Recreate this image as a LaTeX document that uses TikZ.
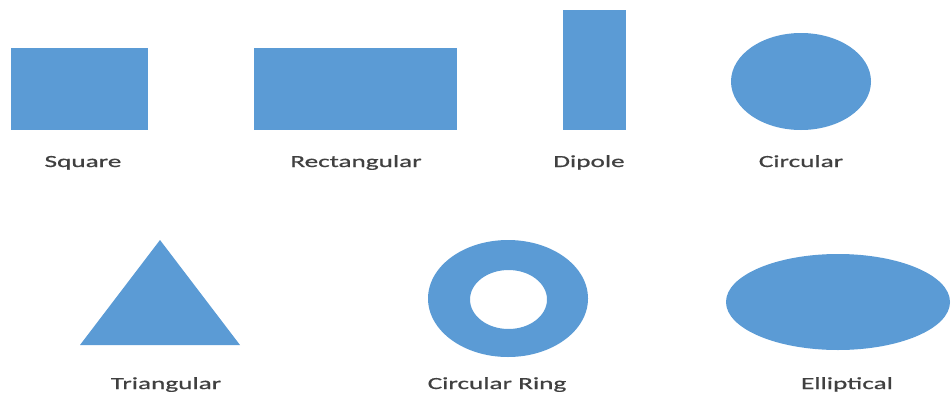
\documentclass[tikz,border=0pt]{standalone}
\usepackage{fontspec}
\usepackage{tikz}
\usetikzlibrary{positioning}
\newfontfamily\lblfont[FakeStretch=1.6,FakeBold=0.8]{Carlito}
\definecolor{patchblue}{HTML}{5B9BD5}
\definecolor{lblgray}{HTML}{404040}

\begin{document}
\begin{tikzpicture}[x=1pt,y=-1pt,
    patch/.style={fill=patchblue},
    lbl/.style={anchor=base,text=lblgray,inner sep=0pt,font=\lblfont\fontsize{17}{20}\selectfont}]
    \useasboundingbox (0,0) rectangle (952,394);

    % top row
    \fill[patch] (11,48) rectangle (148,130);
    \fill[patch] (254,48) rectangle (457,130);
    \fill[patch] (563,10) rectangle (626,130);
    \fill[patch] (801,81.5) ellipse [x radius=70, y radius=48.5];

    % bottom row
    \fill[patch] (160,240) -- (240,345) -- (80,345) -- cycle;
    \fill[patch,even odd rule] (508,298.5) ellipse [x radius=80, y radius=58.5]
                               (508.5,299.5) ellipse [x radius=38.5, y radius=29.5];
    \fill[patch] (838,302) ellipse [x radius=112, y radius=48];

    % labels
    \node[lbl] (square) at (83,167) {Square};
    \node[lbl] (rect) at (356,167) {Rectangular};
    \node[lbl] (dipole) at (589,167) {Dipole};
    \node[lbl] (circ) at (801,167) {Circular};
    \node[lbl] (tri) at (166,389) {Triangular};
    \node[lbl] (ring) at (497,389) {Circular Ring};
    \node[lbl] (ellip) at (847,389) {Elliptical};
\end{tikzpicture}
\end{document}
